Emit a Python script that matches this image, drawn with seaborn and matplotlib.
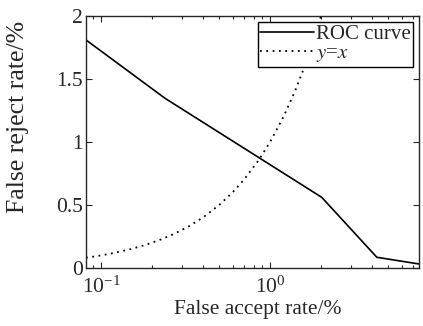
import numpy as np
import pandas as pd
import matplotlib
matplotlib.use("Agg")
import matplotlib.pyplot as plt
import seaborn as sns

# ROC curve (false accept %, false reject %)
roc_far = [0.0815, 0.239, 2.02, 4.28, 7.6]
roc_frr = [1.81, 1.347, 0.561, 0.085, 0.032]

# reference line y = x
ref_x = [0.0815, 0.09, 0.1, 0.12, 0.15, 0.18, 0.22, 0.27, 0.33, 0.4, 0.5, 0.6,
         0.7, 0.85, 1.0, 1.2, 1.4, 1.6, 1.8, 2.0, 2.2]
ref_y = [0.0815, 0.09, 0.1, 0.12, 0.15, 0.18, 0.22, 0.27, 0.33, 0.4, 0.5, 0.6,
         0.7, 0.85, 1.0, 1.2, 1.4, 1.6, 1.8, 2.0, 2.2]


def main():
    sns.set_style("ticks")
    plt.rcParams["font.family"] = ["Liberation Serif", "DejaVu Serif"]
    plt.rcParams["mathtext.fontset"] = "stix"
    plt.rcParams["xtick.direction"] = "in"
    plt.rcParams["ytick.direction"] = "in"

    roc = pd.DataFrame({"far": roc_far, "frr": roc_frr})
    ref = pd.DataFrame({"x": ref_x, "y": ref_y})

    fig = plt.figure(figsize=(4.23, 3.26), dpi=100)
    ax = fig.add_axes([86 / 423, 1 - 268 / 326, 333 / 423, 252 / 326])

    sns.lineplot(data=roc, x="far", y="frr", ax=ax, color="black", lw=1.2,
                 label="ROC curve", estimator=None, sort=False)
    sns.lineplot(data=ref, x="x", y="y", ax=ax, color="black", lw=1.3,
                 linestyle=(0, (1, 2.5)), label="$y$=$x$", estimator=None, sort=False)

    ax.set_xscale("log")
    ax.set_xlim(0.0815, 7.6)
    ax.set_ylim(0, 2)
    ax.set_yticks([0, 0.5, 1, 1.5, 2])
    ax.set_yticklabels(["0", "0.5", "1", "1.5", "2"])
    ax.tick_params(which="both", top=True, right=True, labelsize=15.5, pad=2)
    ax.tick_params(axis="x", pad=6)
    ax.tick_params(which="major", length=4, width=0.8)
    ax.tick_params(which="minor", length=2.5, width=0.8)
    for s in ax.spines.values():
        s.set_linewidth(1.0)

    ax.set_xlabel("False accept rate/%", fontsize=15.5, va="top")
    ax.xaxis.set_label_coords(0.517, -0.128)
    ax.set_ylabel("False reject rate/%", fontsize=18.5)
    ax.yaxis.set_label_coords(-0.17, 0.6)

    leg = ax.legend(loc="upper right", fontsize=15, frameon=True, fancybox=False,
                    edgecolor="black", handlelength=2.6, handletextpad=0.1,
                    borderpad=0.1, labelspacing=0.0, borderaxespad=0.3)
    leg.get_frame().set_linewidth(1.0)
    leg.get_frame().set_alpha(1)

    plt.savefig("out.png", dpi=100)
    plt.close()


if __name__ == "__main__":
    main()
